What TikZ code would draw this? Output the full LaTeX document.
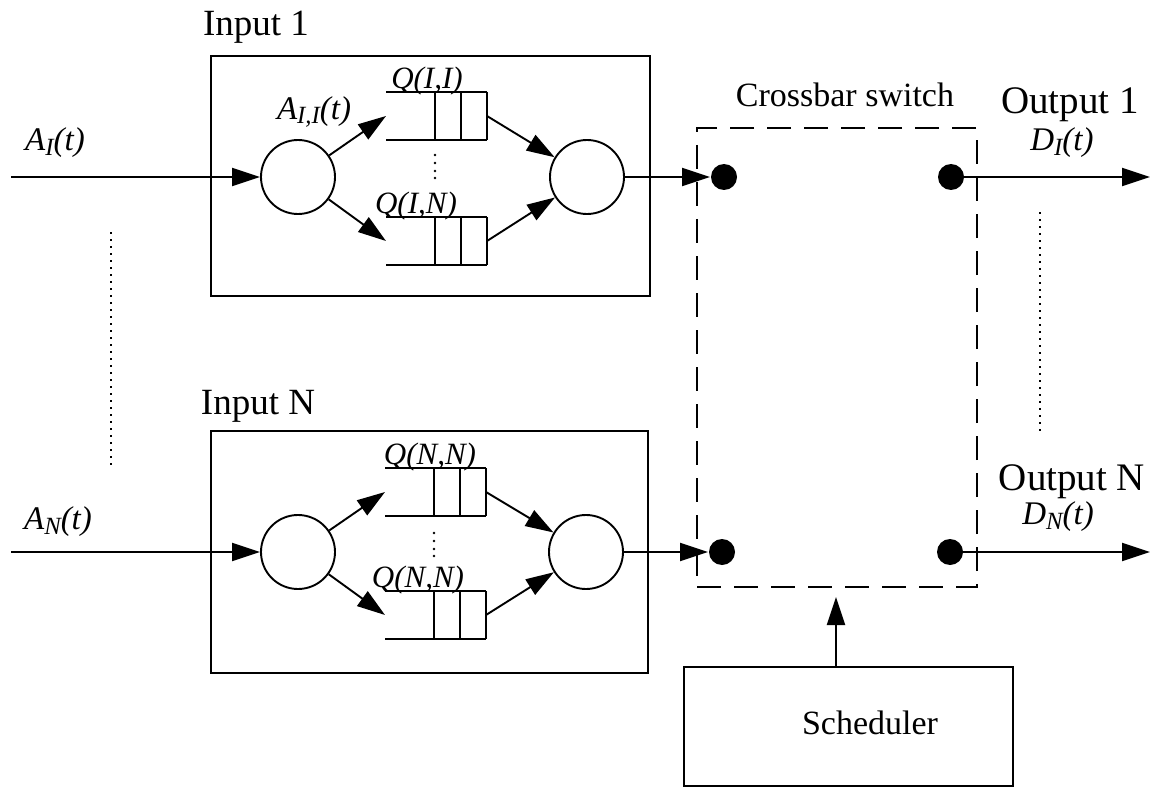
\documentclass[tikz,border=0pt]{standalone}
\usepackage{fontspec}
\setmainfont{Liberation Serif}
\usetikzlibrary{arrows.meta}
\newcommand{\lowsub}[1]{\raisebox{-0.32ex}{\scalebox{0.75}{#1}}}
\begin{document}
\begin{tikzpicture}[x=1pt,y=-1pt,line width=1.9pt,
  arr/.style={-{Triangle[length=28pt,width=18pt]}},
  proc/.style={draw,circle,inner sep=0pt,minimum size=74pt},
  port/.style={fill,circle,inner sep=0pt,minimum size=26pt},
  bigtxt/.style={font=\fontsize{37}{39}\selectfont},
  outtxt/.style={font=\fontsize{39}{41}\selectfont},
  midtxt/.style={font=\fontsize{34}{36}\selectfont},
  ittxt/.style={font=\fontsize{33}{35}\selectfont\itshape},
  qtxt/.style={font=\fontsize{31}{33}\selectfont\itshape,anchor=base,inner sep=0pt},
  dotline/.style={line width=2pt,dash pattern=on 2pt off 5pt},
  queue/.pic={\draw (0,0) -- (101,0) (0,48) -- (101,48) (49,0) -- (49,48) (75,0) -- (75,48) (101,0) -- (101,48);}
]
\useasboundingbox (0,0) rectangle (1152,789);

% ---------- Input 1 ----------
\node[bigtxt] (lin1) at (256,27) {Input 1};
\node[draw,inner sep=0pt,minimum width=439pt,minimum height=240pt] (in1) at (430.5,176) {};
\node[proc] (c11) at (298,177) {};
\node[proc] (c12) at (587,177) {};
\pic at (386,92) {queue};
\pic at (386,217) {queue};
\coordinate (q11in) at (386,116);
\coordinate (q11out) at (487,116);
\coordinate (q1nin) at (386,241);
\coordinate (q1nout) at (487,241);
\node[qtxt] (lq11) at (427,89) {Q(I,I)};
\node[qtxt] (lq1n) at (416,213) {Q(I,N)};
\node[ittxt] (la11) at (314,112) {A\lowsub{I,I}(t)};
\node[ittxt] (la1) at (55,143) {A\lowsub{I}(t)};
\coordinate (a1s) at (11,177);
\draw[arr] (a1s) -- (c11.west);
\draw[arr] (c11) -- (q11in);
\draw[arr] (c11) -- (q1nin);
\draw[arr] (q11out) -- (c12);
\draw[arr] (q1nout) -- (c12);
\fill (435,155) circle (1.4pt) (435,163) circle (1.4pt) (435,171) circle (1.4pt) (435,178) circle (1.4pt);

% ---------- Input N ----------
\node[bigtxt] (linN) at (258,406) {Input N};
\node[draw,inner sep=0pt,minimum width=437pt,minimum height=242pt] (inN) at (429.5,552) {};
\node[proc] (cN1) at (298,552) {};
\node[proc] (cN2) at (586,552) {};
\pic at (385,468) {queue};
\pic at (385,591) {queue};
\coordinate (qN1in) at (385,492);
\coordinate (qN1out) at (486,492);
\coordinate (qNNin) at (385,615);
\coordinate (qNNout) at (486,615);
\node[qtxt] (lqN1) at (430,464) {Q(N,N)};
\node[qtxt] (lqNN) at (418,587) {Q(N,N)};
\node[ittxt] (laN) at (58,522) {A\lowsub{N}(t)};
\coordinate (aNs) at (11,552);
\draw[arr] (aNs) -- (cN1.west);
\draw[arr] (cN1) -- (qN1in);
\draw[arr] (cN1) -- (qNNin);
\draw[arr] (qN1out) -- (cN2);
\draw[arr] (qNNout) -- (cN2);
\fill (434,533) circle (1.4pt) (434,541) circle (1.4pt) (434,549) circle (1.4pt) (434,556) circle (1.4pt);

% left dotted line
\coordinate (ld1) at (111,232);
\coordinate (ld2) at (111,467);
\draw[dotline] (ld1) -- (ld2);

% ---------- Crossbar switch ----------
\node[midtxt] (lcb) at (845,95) {Crossbar switch};
\node[draw,dash pattern=on 24pt off 13pt,inner sep=0pt,minimum width=280pt,minimum height=459pt] (cb) at (837,357.5) {};
\node[port] (p1l) at (724,177) {};
\node[port] (p1r) at (951,177) {};
\node[port] (pNl) at (722,552) {};
\node[port] (pNr) at (950,552) {};
\draw[arr] (c12.east) -- (p1l.west);
\draw[arr] (cN2.east) -- (pNl.west);

% ---------- Outputs ----------
\coordinate (o1e) at (1150,177);
\coordinate (oNe) at (1150,552);
\draw[arr] (p1r.center) -- (o1e);
\draw[arr] (pNr.center) -- (oNe);
\node[outtxt] (lo1) at (1070,105) {Output 1};
\node[ittxt] (ld1t) at (1062,143) {D\lowsub{I}(t)};
\node[outtxt] (loN) at (1072,482) {Output N};
\node[ittxt] (ldNt) at (1058,517) {D\lowsub{N}(t)};
\coordinate (rd1) at (1040,212);
\coordinate (rd2) at (1040,435);
\draw[dotline] (rd1) -- (rd2);

% ---------- Scheduler ----------
\node[draw,inner sep=0pt,minimum width=329pt,minimum height=119pt] (sch) at (848.5,726.5) {};
\node[midtxt] (lsch) at (870,723) {Scheduler};
\coordinate (s1) at (836,667);
\coordinate (s2) at (836,597);
\draw[arr] (s1) -- (s2);
\end{tikzpicture}
\end{document}
